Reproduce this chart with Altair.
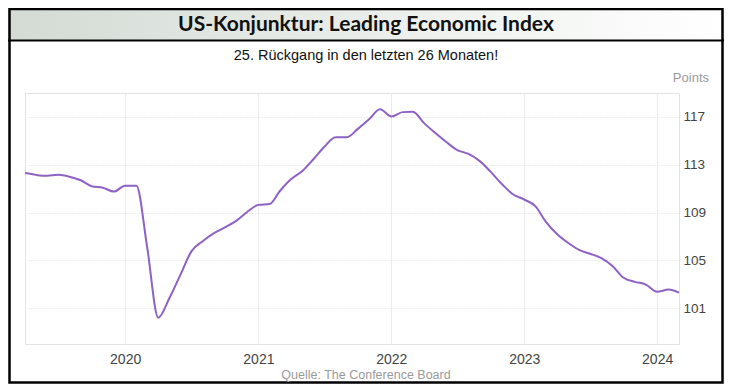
import altair as alt
import pandas as pd

# ---- data ----
months = [
    "2019-04-01", "2019-05-01", "2019-06-01", "2019-07-01", "2019-08-01", "2019-09-01",
    "2019-10-01", "2019-11-01", "2019-12-01",
    "2020-01-01", "2020-02-01", "2020-03-01", "2020-04-01", "2020-05-01", "2020-06-01",
    "2020-07-01", "2020-08-01", "2020-09-01", "2020-10-01", "2020-11-01", "2020-12-01",
    "2021-01-01", "2021-02-01", "2021-03-01", "2021-04-01", "2021-05-01", "2021-06-01",
    "2021-07-01", "2021-08-01", "2021-09-01", "2021-10-01", "2021-11-01", "2021-12-01",
    "2022-01-01", "2022-02-01", "2022-03-01", "2022-04-01", "2022-05-01", "2022-06-01",
    "2022-07-01", "2022-08-01", "2022-09-01", "2022-10-01", "2022-11-01", "2022-12-01",
    "2023-01-01", "2023-02-01", "2023-03-01", "2023-04-01", "2023-05-01", "2023-06-01",
    "2023-07-01", "2023-08-01", "2023-09-01", "2023-10-01", "2023-11-01", "2023-12-01",
    "2024-01-01", "2024-02-01", "2024-03-01",
]
lei = [
    112.3, 112.15, 112.07, 112.15, 112.0, 111.7,
    111.2, 111.08, 110.75,
    111.25, 111.25, 106.2, 100.2, 101.8, 103.8,
    105.75, 106.6, 107.27, 107.76, 108.3, 109.04,
    109.64, 109.72, 110.8, 111.8, 112.46, 113.46,
    114.5, 115.3, 115.3, 116.0, 116.8, 117.64,
    117.04, 117.4, 117.43, 116.48, 115.67, 114.9,
    114.23, 113.9, 113.3, 112.4, 111.37, 110.53,
    110.09, 109.52, 108.24, 107.2, 106.47, 105.87,
    105.55, 105.18, 104.5, 103.54, 103.2, 102.97,
    102.37, 102.55, 102.3,
]
year_ticks = [2020, 2021, 2022, 2023, 2024]
y_ticks = [101, 105, 109, 113, 117]
y_domain = [98, 119]

title_text = "US-Konjunktur: Leading Economic Index"
subtitle_text = "25. Rückgang in den letzten 26 Monaten!"
unit_text = "Points"
source_text = "Quelle: The Conference Board"

df = pd.DataFrame({"date": months, "value": lei})
one = pd.DataFrame({"k": [0]})

W, H = 654, 251
PAD = {"left": 17, "top": 85, "right": 45, "bottom": 40}
TOTAL_W = W + PAD["left"] + PAD["right"]
TOTAL_H = H + PAD["top"] + PAD["bottom"]
ox, oy = PAD["left"], PAD["top"]


def box(x, x2, y, y2, **kw):
    return alt.Chart(one).mark_rect(**kw).encode(
        x=alt.value(x - ox), x2=alt.value(x2 - ox),
        y=alt.value(y - oy), y2=alt.value(y2 - oy))


def label(txt, x, y, **kw):
    return alt.Chart(one).mark_text(text=txt, **kw).encode(
        x=alt.value(x - ox), y=alt.value(y - oy))


header = box(0, TOTAL_W, 0, 33, fill=alt.Gradient(
    gradient="linear",
    stops=[alt.GradientStop(color="#d3dbd4", offset=0),
           alt.GradientStop(color="#eef1ee", offset=0.6),
           alt.GradientStop(color="#ffffff", offset=1)],
    x1=0, x2=1, y1=0, y2=0))
sep = box(0, TOTAL_W, 31.5, 33.5, fill="#000000")
frame = box(1.5, TOTAL_W - 1.5, 1, TOTAL_H - 1.5, filled=False, color="#000000", strokeWidth=2.5)

line = alt.Chart(df).mark_line(interpolate="monotone", color="#8d62c4", strokeWidth=2).encode(
    x=alt.X("date:T",
            scale=alt.Scale(type="utc", domain=[
                alt.DateTime(year=2019, month=4, date=1, utc=True),
                alt.DateTime(year=2024, month=3, date=1, utc=True)]),
            axis=alt.Axis(values=[alt.DateTime(year=y, month=1, date=1, utc=True) for y in year_ticks],
                          format="%Y", formatType="utc", title=None, ticks=False, domain=False,
                          labelPadding=8, labelFontSize=14, labelColor="#444444",
                          labelFont="Liberation Sans", labelFlush=False,
                          grid=True, gridColor="#ececec")),
    y=alt.Y("value:Q",
            scale=alt.Scale(domain=y_domain, nice=False, zero=False),
            axis=alt.Axis(orient="right", values=y_ticks, title=None, ticks=False, domain=False,
                          labelPadding=4, labelFontSize=13.5, labelColor="#444444",
                          labelFont="Liberation Sans",
                          grid=True, gridColor="#dcdcdc", gridDash=[1, 2])),
)

title = label(title_text, TOTAL_W / 2, 17, font="Lato", fontWeight="bold", fontSize=21,
              color="#111111", align="center", baseline="middle")
subtitle = label(subtitle_text, TOTAL_W / 2, 48, font="Liberation Sans", fontSize=14.5,
                 color="#111111", align="center", baseline="middle")
unit = label(unit_text, 701, 70, font="Liberation Sans", fontSize=13,
             color="#9a9a9a", align="right", baseline="middle")
source = label(source_text, TOTAL_W / 2, 367, font="Liberation Sans", fontSize=12.5,
               color="#9a9a9a", align="center", baseline="middle")

chart = alt.layer(header, sep, frame, line, title, subtitle, unit, source).properties(
    width=W, height=H, padding=PAD,
    autosize=alt.AutoSizeParams(type="none"),
    background="#ffffff",
).configure_view(stroke="#e2e2e2")

chart.save("out.html", embed_options={"renderer": "svg", "actions": False})
